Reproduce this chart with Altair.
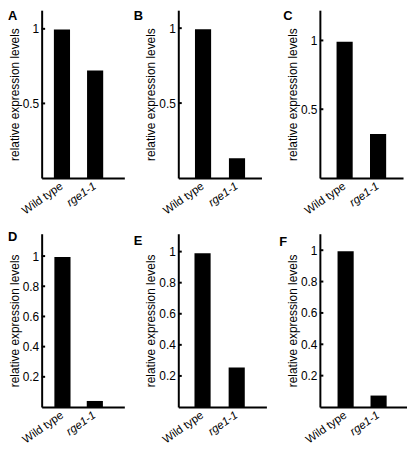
import altair as alt
import pandas as pd

genotypes = ["Wild type", "rge1-1"]
panel_letters = ["A", "B", "C", "D", "E", "F"]

values_A = [0.995, 0.72]
values_B = [0.993, 0.131]
values_C = [0.99, 0.32]
values_D = [0.994, 0.04]
values_E = [0.99, 0.255]
values_F = [0.994, 0.073]

ticks_top = [0.5, 1]
ticks_bottom = [0.2, 0.4, 0.6, 0.8, 1]

ymax_A, ymax_B, ymax_C = 1.125, 1.12, 1.22
ymax_D, ymax_E, ymax_F = 1.148, 1.115, 1.105

FONT = "Liberation Sans"
Y_TITLE = "relative expression levels"
BAR_W = 16.3


def band_scale(width, c1, c2):
    step = c2 - c1
    pi = 1 - BAR_W / step
    start = c1 - BAR_W / 2
    leftover = width - step * (2 - pi)
    return alt.Scale(
        paddingInner=pi,
        paddingOuter=leftover / (2 * step),
        align=start / leftover,
    )


def panel(letter, values, ticks, ymax, width, height, c1, c2, lx, ly):
    df = pd.DataFrame({"genotype": genotypes, "value": values})
    tdf = pd.DataFrame({"value": ticks})
    yscale = alt.Scale(domain=[0, ymax], nice=False, zero=False)
    yaxis = alt.Axis(
        values=ticks,
        format="~g",
        ticks=False,
        grid=False,
        domainColor="black",
        domainWidth=2,
        labelFont=FONT,
        labelFontSize=12,
        labelColor="black",
        labelPadding=3,
        title=Y_TITLE,
        titleFont=FONT,
        titleFontSize=12,
        titleFontWeight="normal",
        titleColor="black",
        titlePadding=1,
    )
    bars = alt.Chart(df).mark_bar(color="black").encode(
        x=alt.X(
            "genotype:N",
            sort=genotypes,
            scale=band_scale(width, c1, c2),
            title=None,
            axis=alt.Axis(
                labelAngle=-35,
                labelAlign="right",
                labelBaseline="middle",
                labelPadding=7,
                labelFontSize=11.5,
                labelFont=FONT,
                labelColor="black",
                ticks=False,
                domainColor="black",
                domainWidth=2,
                labelFontStyle={
                    "condition": {"test": "datum.value === 'rge1-1'", "value": "italic"},
                    "value": "normal",
                },
            ),
        ),
        y=alt.Y("value:Q", scale=yscale, axis=yaxis),
    )
    rules = alt.Chart(tdf).mark_rule(color="black", strokeWidth=2).encode(
        y=alt.Y("value:Q", scale=yscale, axis=yaxis),
        x=alt.value(0),
        x2=alt.value(3.5),
    )
    lab = alt.Chart(alt.Data(values=[{"letter": letter}])).mark_text(
        font=FONT, fontSize=13, fontWeight="bold", align="left", baseline="top", color="black"
    ).encode(text="letter:N", x=alt.value(lx), y=alt.value(ly))
    return alt.layer(bars, rules, lab).properties(width=width, height=height)


H_TOP = 169.5
H_BOT = 175

pA = panel("A", values_A, ticks_top, ymax_A, 83.5, H_TOP, 20.5, 54, -34, 0)
pB = panel("B", values_B, ticks_top, ymax_B, 84, H_TOP, 25, 59.3, -45, 0)
pC = panel("C", values_C, ticks_top, ymax_C, 84, H_TOP, 25, 58.8, -37, 0)
pD = panel("D", values_D, ticks_bottom, ymax_D, 83.5, H_BOT, 21, 53.7, -34, -3)
pE = panel("E", values_E, ticks_bottom, ymax_E, 89, H_BOT, 24.5, 59, -45, 1)
pF = panel("F", values_F, ticks_bottom, ymax_F, 88, H_BOT, 26, 59.3, -41, 2.5)

chart = (
    alt.concat(pA, pB, pC, pD, pE, pF, columns=3,
               spacing={"row": 55.8, "column": 54}, bounds="flush", align="each")
    .properties(padding=0, background="white")
    .configure_view(stroke=None)
)

chart.save("out.html", embed_options={"renderer": "svg", "actions": False})
